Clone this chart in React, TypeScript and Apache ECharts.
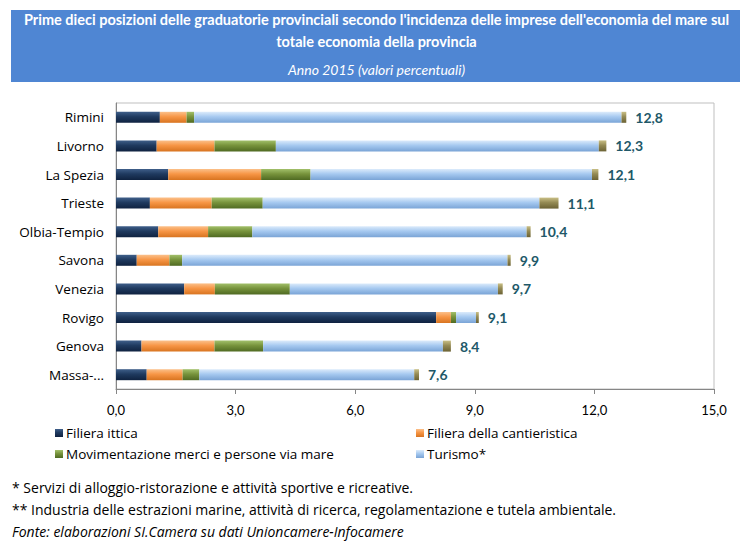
import React, { useEffect, useRef } from "react";
import * as echarts from "echarts";

const categories = ["Rimini", "Livorno", "La Spezia", "Trieste", "Olbia-Tempio", "Savona", "Venezia", "Rovigo", "Genova", "Massa-..."];
const filieraIttica = [1.10, 1.02, 1.31, 0.85, 1.06, 0.52, 1.71, 8.03, 0.64, 0.77];
const cantieristica = [0.67, 1.45, 2.33, 1.55, 1.25, 0.82, 0.77, 0.37, 1.83, 0.90];
const movimentazione = [0.19, 1.54, 1.24, 1.28, 1.11, 0.32, 1.88, 0.13, 1.22, 0.42];
const turismo = [10.72, 8.10, 7.06, 6.94, 6.88, 8.16, 5.22, 0.50, 4.51, 5.39];
const altre = [0.12, 0.19, 0.16, 0.48, 0.10, 0.08, 0.12, 0.07, 0.20, 0.12];
const totals = [12.8, 12.3, 12.1, 11.1, 10.4, 9.9, 9.7, 9.1, 8.4, 7.6];
const xTicks = { min: 0, max: 15, interval: 3 };

const FONT = "Lato, 'Open Sans', sans-serif";
const WIDE = "'Open Sans', Lato, sans-serif";

function grad(light: string, base: string, dark: string) {
  return new echarts.graphic.LinearGradient(0, 0, 0, 1, [
    { offset: 0, color: light },
    { offset: 0.45, color: base },
    { offset: 1, color: dark },
  ]);
}

export default function App() {
  const ref = useRef<HTMLDivElement>(null);
  useEffect(() => {
    document.body.style.margin = "0";
    const chart = echarts.init(ref.current!, null, { renderer: "svg" });
    const fmt = (v: number) => v.toFixed(1).replace(".", ",");
    const mk = (name: string, data: number[], color: any, extra: any = {}) => ({
      name,
      type: "bar",
      stack: "tot",
      data,
      barWidth: 11,
      itemStyle: { color },
      emphasis: { disabled: true },
      ...extra,
    });
    const legendText = { fontSize: 13.5, color: "#000", fontFamily: WIDE, padding: [0, 0, 0, -2] };
    chart.setOption({
      animation: false,
      textStyle: { fontFamily: FONT },
      grid: { left: 116, right: 39, top: 103, bottom: 168, show: true, borderColor: "#bfbfbf", borderWidth: 1 },
      xAxis: {
        type: "value",
        min: xTicks.min,
        max: xTicks.max,
        interval: xTicks.interval,
        axisLine: { show: true, lineStyle: { color: "#868686" } },
        axisTick: { show: true, length: 5, lineStyle: { color: "#868686" } },
        splitLine: { show: false },
        axisLabel: { formatter: (v: number) => fmt(v), color: "#000", fontSize: 13, margin: 14, fontFamily: FONT },
      },
      yAxis: {
        type: "category",
        data: categories,
        inverse: true,
        axisLine: { show: true, lineStyle: { color: "#868686" } },
        axisTick: { show: false },
        axisLabel: { color: "#000", fontSize: 13.5, margin: 12, fontFamily: WIDE },
      },
      legend: [
        {
          left: 50,
          top: 421,
          orient: "vertical",
          itemGap: 7,
          itemWidth: 8,
          itemHeight: 8,
          icon: "rect",
          data: ["Filiera ittica", "Movimentazione merci e persone via mare"],
          textStyle: legendText,
        },
        {
          left: 411,
          top: 421,
          orient: "vertical",
          itemGap: 7,
          itemWidth: 8,
          itemHeight: 8,
          icon: "rect",
          data: ["Filiera della cantieristica", "Turismo*"],
          textStyle: legendText,
        },
      ],
      series: [
        mk("Filiera ittica", filieraIttica, grad("#3f5f8a", "#1f3a5f", "#0f2240")),
        mk("Filiera della cantieristica", cantieristica, grad("#fbc08a", "#f79646", "#d87420")),
        mk("Movimentazione merci e persone via mare", movimentazione, grad("#a2c06a", "#77933c", "#4f6a22")),
        mk("Turismo*", turismo, grad("#dcebfb", "#a6c9f0", "#7aa4d6")),
        mk("Altre attività**", altre, grad("#c9bf86", "#948a54", "#6b6234"), {
          label: {
            show: true,
            position: "right",
            distance: 9,
            formatter: (p: any) => fmt(totals[p.dataIndex]),
            color: "#215868",
            fontWeight: "bold",
            fontSize: 14,
            fontFamily: FONT,
          },
        }),
      ],
      graphic: [
        { type: "rect", left: 11, top: 10, shape: { width: 729, height: 72 }, style: { fill: "#4f86d3" }, z: 0 },
        {
          type: "text",
          left: "center",
          top: 12,
          style: {
            text: "Prime dieci posizioni delle graduatorie provinciali secondo l'incidenza delle imprese dell'economia del mare sul",
            fill: "#fff",
            fontWeight: "bold",
            fontSize: 14.5,
            fontFamily: FONT,
          },
        },
        {
          type: "text",
          left: "center",
          top: 34,
          style: { text: "totale economia della provincia", fill: "#fff", fontWeight: "bold", fontSize: 14.5, fontFamily: FONT },
        },
        {
          type: "text",
          left: "center",
          top: 62,
          style: { text: "Anno 2015 (valori percentuali)", fill: "#fff", fontStyle: "italic", fontSize: 14, fontFamily: FONT },
        },
        {
          type: "text",
          left: 12,
          top: 480,
          style: { text: "* Servizi di alloggio-ristorazione e attività sportive e ricreative.", fill: "#000", fontSize: 14, fontFamily: WIDE },
        },
        {
          type: "text",
          left: 12,
          top: 502,
          style: { text: "** Industria delle estrazioni marine, attività di ricerca, regolamentazione e tutela ambientale.", fill: "#000", fontSize: 14, fontFamily: WIDE },
        },
        {
          type: "text",
          left: 12,
          top: 524,
          style: { text: "Fonte: elaborazioni SI.Camera su dati Unioncamere-Infocamere", fill: "#000", fontStyle: "italic", fontSize: 14, fontFamily: WIDE },
        },
      ],
    });
    return () => chart.dispose();
  }, []);
  return <div ref={ref} style={{ width: 753, height: 557 }} />;
}
